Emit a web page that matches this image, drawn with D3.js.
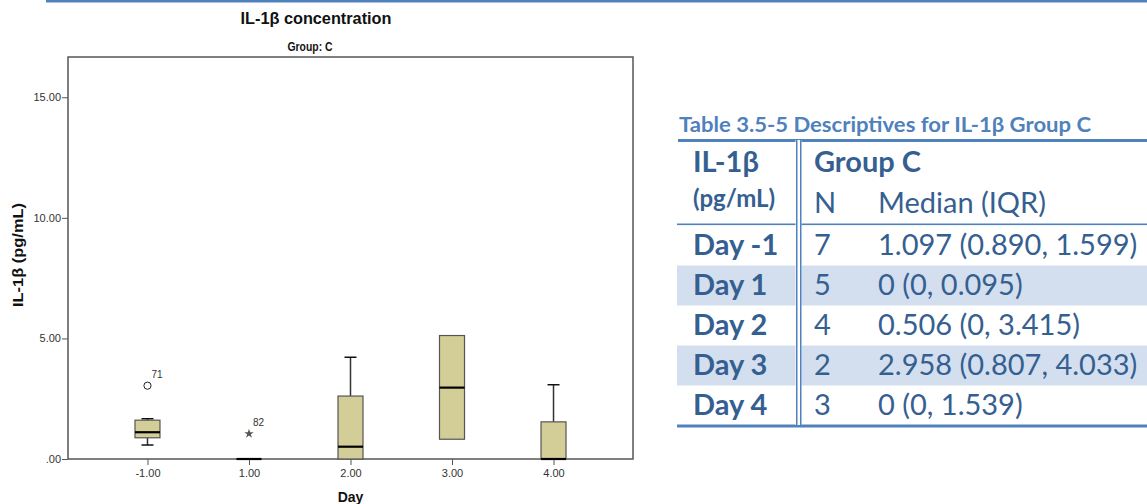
<!DOCTYPE html>
<html><head><meta charset="utf-8">
<script src="https://cdn.jsdelivr.net/npm/d3@7"></script>
<style>body{margin:0;background:#fff} svg{display:block}</style>
</head><body><svg id="c" width="1147" height="504"></svg>
<script>
// ---- chart data ----
const categories = ["-1.00", "1.00", "2.00", "3.00", "4.00"];
const whiskerLow  = [0.58, 0, 0,    0.82, 0];
const q1          = [0.88, 0, 0,    0.82, 0];
const median      = [1.11, 0, 0.51, 2.96, 0];
const q3          = [1.61, 0, 2.61, 5.12, 1.54];
const whiskerHigh = [1.67, 0, 4.22, 5.12, 3.08];
const outlierCats   = ["-1.00", "1.00"];
const outlierValues = [3.04, 1.05];
const outlierIds    = ["71", "82"];
const outlierShapes = ["circle", "star"];
const yTicks      = [0, 5, 10, 15];
const yTickLabels = [".00", "5.00", "10.00", "15.00"];
// ---- table data ----
const tableDays   = ["Day -1", "Day 1", "Day 2", "Day 3", "Day 4"];
const tableN      = ["7", "5", "4", "2", "3"];
const tableMedian = ["1.097 (0.890, 1.599)", "0 (0, 0.095)", "0.506 (0, 3.415)", "2.958 (0.807, 4.033)", "0 (0, 1.539)"];

const svg = d3.select("#c");
const AR = "'Liberation Sans', Arial, sans-serif";
const TB = "Lato, 'Open Sans', sans-serif";
const blue = "#4F81BD", dark = "#365F91";

// top rule
svg.append("rect").attr("x", 46).attr("y", 0).attr("width", 1101).attr("height", 2.5).attr("fill", blue);

// plot frame
const L = 68, R = 633, T = 57, B = 459;
const x = d3.scalePoint().domain(categories).range([L, R]).padding(0.783);
const y = d3.scaleLinear().domain([0, 16.67]).range([B, T]);

svg.append("text").attr("x", 316).attr("y", 24).attr("text-anchor", "middle")
  .attr("font-family", AR).attr("font-size", 16).attr("font-weight", "bold").attr("fill", "#111")
  .attr("textLength", 151).attr("lengthAdjust", "spacingAndGlyphs").text("IL-1β concentration");
svg.append("text").attr("x", 310).attr("y", 51).attr("text-anchor", "middle")
  .attr("font-family", AR).attr("font-size", 12.5).attr("font-weight", "bold").attr("fill", "#111")
  .attr("textLength", 45).attr("lengthAdjust", "spacingAndGlyphs").text("Group: C");

const yAxis = svg.append("g").attr("transform", `translate(${L},0)`)
  .call(d3.axisLeft(y).tickValues(yTicks).tickFormat((d, i) => yTickLabels[i]).tickSize(6).tickSizeOuter(0).tickPadding(1));
yAxis.select(".domain").remove();
yAxis.selectAll("line").attr("stroke", "#555");
yAxis.selectAll("text").attr("font-family", AR).attr("font-size", 11).attr("fill", "#333");

const xAxis = svg.append("g").attr("transform", `translate(0,${B})`)
  .call(d3.axisBottom(x).tickSize(6).tickSizeOuter(0).tickPadding(4));
xAxis.select(".domain").remove();
xAxis.selectAll("line").attr("stroke", "#555");
xAxis.selectAll("text").attr("font-family", AR).attr("font-size", 11).attr("fill", "#333");

svg.append("rect").attr("x", L).attr("y", T).attr("width", R - L).attr("height", B - T)
  .attr("fill", "none").attr("stroke", "#555").attr("stroke-width", 1.5);

svg.append("text").attr("x", (L + R) / 2).attr("y", 502).attr("text-anchor", "middle")
  .attr("font-family", AR).attr("font-size", 14).attr("font-weight", "bold").attr("fill", "#111").text("Day");
svg.append("text").attr("transform", `translate(23,${(T + B) / 2 - 3}) rotate(-90)`).attr("text-anchor", "middle")
  .attr("font-family", AR).attr("font-size", 14).attr("font-weight", "bold").attr("fill", "#111")
  .attr("textLength", 104).attr("lengthAdjust", "spacingAndGlyphs").text("IL-1β (pg/mL)");

// boxes
const bw = 25, cw = 12;
const boxes = svg.append("g");
categories.forEach((c, i) => {
  const cx = x(c);
  const g = boxes.append("g");
  if (whiskerHigh[i] > q3[i]) {
    g.append("line").attr("x1", cx).attr("x2", cx).attr("y1", y(q3[i])).attr("y2", y(whiskerHigh[i])).attr("stroke", "#333").attr("stroke-width", 1.5);
    g.append("line").attr("x1", cx - cw / 2).attr("x2", cx + cw / 2).attr("y1", y(whiskerHigh[i])).attr("y2", y(whiskerHigh[i])).attr("stroke", "#111").attr("stroke-width", 1.5);
  }
  if (whiskerLow[i] < q1[i]) {
    g.append("line").attr("x1", cx).attr("x2", cx).attr("y1", y(q1[i])).attr("y2", y(whiskerLow[i])).attr("stroke", "#333").attr("stroke-width", 1.5);
    g.append("line").attr("x1", cx - cw / 2).attr("x2", cx + cw / 2).attr("y1", y(whiskerLow[i])).attr("y2", y(whiskerLow[i])).attr("stroke", "#111").attr("stroke-width", 1.5);
  }
  g.append("rect").attr("x", cx - bw / 2).attr("y", y(q3[i])).attr("width", bw).attr("height", y(q1[i]) - y(q3[i]))
    .attr("fill", "#D3CE97").attr("stroke", "#555").attr("stroke-width", 1.2);
  g.append("line").attr("x1", cx - bw / 2).attr("x2", cx + bw / 2).attr("y1", y(median[i])).attr("y2", y(median[i]))
    .attr("stroke", "#000").attr("stroke-width", 2.2);
});

outlierCats.forEach((c, i) => {
  const cx = x(c), cy = y(outlierValues[i]);
  if (outlierShapes[i] === "circle") {
    svg.append("circle").attr("cx", cx).attr("cy", cy).attr("r", 3.6).attr("fill", "#fff").attr("stroke", "#222").attr("stroke-width", 1);
  } else {
    svg.append("path").attr("transform", `translate(${cx},${cy})`).attr("d", d3.symbol(d3.symbolStar, 28)()).attr("fill", "#555");
  }
  svg.append("text").attr("x", cx + 4).attr("y", cy - 8).attr("font-family", AR).attr("font-size", 10).attr("fill", "#333").text(outlierIds[i]);
});

// ---- table ----
const TL = 677, TR = 1147;
svg.append("text").attr("x", 679).attr("y", 132).attr("font-family", TB).attr("font-weight", "bold")
  .attr("font-size", 21).attr("fill", blue).attr("textLength", 412).attr("lengthAdjust", "spacingAndGlyphs")
  .text("Table 3.5-5 Descriptives for IL-1β Group C");

const rowTop = 225.5, rowH = 40;
tableDays.forEach((d, i) => {
  if (i % 2 === 1) {
    svg.append("rect").attr("x", TL).attr("y", rowTop + rowH * i).attr("width", TR - TL).attr("height", rowH).attr("fill", "#D3DFEE");
  }
});
// header lines
svg.append("rect").attr("x", 678).attr("y", 139).attr("width", TR - 678).attr("height", 3).attr("fill", blue);
svg.append("rect").attr("x", TL).attr("y", 223.5).attr("width", TR - TL).attr("height", 1.6).attr("fill", blue);
svg.append("rect").attr("x", TL).attr("y", 424.5).attr("width", TR - TL).attr("height", 3).attr("fill", blue);
// double vertical
svg.append("rect").attr("x", 795.5).attr("y", 140).attr("width", 6).attr("height", 285).attr("fill", "#fff");
svg.append("rect").attr("x", 796).attr("y", 140).attr("width", 1.5).attr("height", 285).attr("fill", blue);
svg.append("rect").attr("x", 800).attr("y", 140).attr("width", 1.5).attr("height", 285).attr("fill", blue);

const colDay = 693, colN = 814, colMed = 878, fs = 29;
svg.append("text").attr("x", colDay).attr("y", 172).attr("font-family", TB).attr("font-weight", "bold").attr("font-size", fs).attr("fill", dark).text("IL-1β");
svg.append("text").attr("x", colN).attr("y", 172).attr("font-family", TB).attr("font-weight", "bold").attr("font-size", fs).attr("fill", dark).text("Group C");
svg.append("text").attr("x", colDay).attr("y", 207).attr("font-family", TB).attr("font-weight", "bold").attr("font-size", 24).attr("fill", dark).text("(pg/mL)");
svg.append("text").attr("x", colN).attr("y", 213).attr("font-family", TB).attr("font-size", fs).attr("fill", dark).text("N");
svg.append("text").attr("x", colMed).attr("y", 213).attr("font-family", TB).attr("font-size", fs).attr("fill", dark).text("Median (IQR)");

tableDays.forEach((d, i) => {
  const by = 255 + rowH * i;
  svg.append("text").attr("x", colDay).attr("y", by).attr("font-family", TB).attr("font-weight", "bold").attr("font-size", fs).attr("fill", dark).text(d);
  svg.append("text").attr("x", colN).attr("y", by).attr("font-family", TB).attr("font-size", fs).attr("fill", dark).text(tableN[i]);
  svg.append("text").attr("x", colMed).attr("y", by).attr("font-family", TB).attr("font-size", fs).attr("fill", dark).text(tableMedian[i]);
});
</script></body></html>
